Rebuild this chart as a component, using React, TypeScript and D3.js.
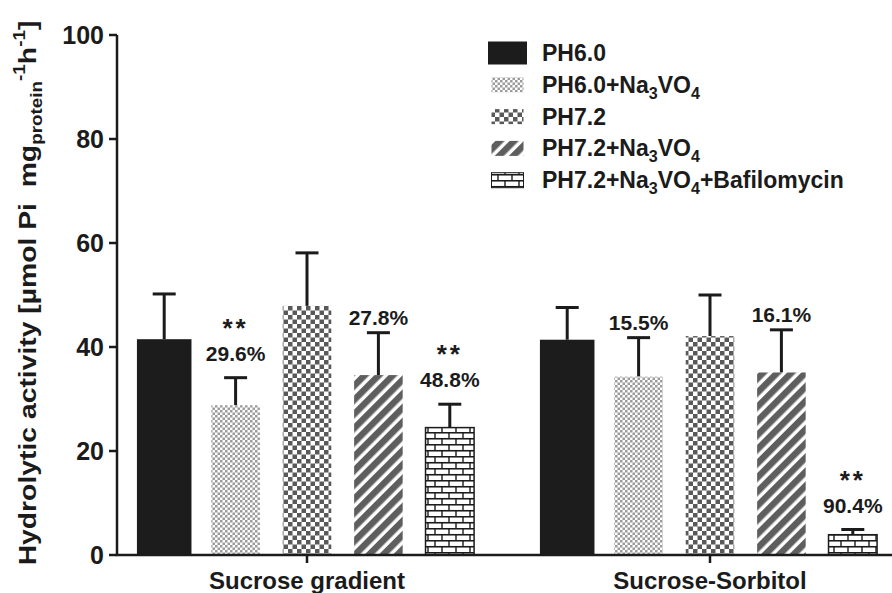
import React from "react";
import * as d3 from "d3";

const categories = ["Sucrose gradient", "Sucrose-Sorbitol"];
const seriesNames = ["PH6.0", "PH6.0+Na_3VO_4", "PH7.2", "PH7.2+Na_3VO_4", "PH7.2+Na_3VO_4+Bafilomycin"];
const meanGradient = [41.5, 28.8, 47.9, 34.6, 24.5];
const sdGradient = [8.7, 5.3, 10.2, 8.15, 4.5];
const meanSorbitol = [41.4, 34.3, 42.1, 35.1, 3.9];
const sdSorbitol = [6.2, 7.5, 7.9, 8.2, 1.0];
const pctGradient = ["", "29.6%", "", "27.8%", "48.8%"];
const pctSorbitol = ["", "15.5%", "", "16.1%", "90.4%"];
const starGradient = [false, true, false, false, true];
const starSorbitol = [false, false, false, false, true];
const yTicks = [0, 20, 40, 60, 80, 100];

const means = [meanGradient, meanSorbitol];
const sds = [sdGradient, sdSorbitol];
const pcts = [pctGradient, pctSorbitol];
const stars = [starGradient, starSorbitol];

const W = 892;
const H = 593;
const FONT = "'Liberation Sans', Arial, Helvetica, sans-serif";
const INK = "#1b1b1b";
const fills = ["#1c1c1c", "url(#pFine)", "url(#pCoarse)", "url(#pStripe)", "url(#pBrick)"];

function SubLabel({ label, x, y, size }: { label: string; x: number; y: number; size: number }) {
  const parts = label.split(/(_\d)/).filter((s) => s.length > 0);
  let shifted = false;
  const out: React.ReactNode[] = [];
  parts.forEach((p, i) => {
    if (p.startsWith("_")) {
      out.push(
        <tspan key={i} dy={6} fontSize={size * 0.7}>
          {p.slice(1)}
        </tspan>
      );
      shifted = true;
    } else {
      out.push(
        <tspan key={i} dy={shifted ? -6 : 0}>
          {p}
        </tspan>
      );
      shifted = false;
    }
  });
  return (
    <text x={x} y={y} fontSize={size} fontWeight="bold" fill={INK} fontFamily={FONT}>
      {out}
    </text>
  );
}

export default function App() {
  const y = d3.scaleLinear().domain([0, 100]).range([555, 35]);
  const x0 = d3.scalePoint<string>().domain(categories).range([307, 710]);
  const x1 = d3
    .scaleBand<string>()
    .domain(seriesNames)
    .range([-178.5, 178.5])
    .paddingInner(0.32)
    .paddingOuter(0.16);
  const bw = x1.bandwidth();
  const axisX = 117;

  return (
    <svg width={W} height={H} style={{ display: "block", position: "absolute", left: 0, top: 0, background: "#fff" }}>
      <defs>
        <pattern id="pFine" patternUnits="userSpaceOnUse" width={5} height={5}>
          <rect width={5} height={5} fill="#fff" />
          <rect width={2.5} height={2.5} fill="#9b9b9b" />
          <rect x={2.5} y={2.5} width={2.5} height={2.5} fill="#9b9b9b" />
        </pattern>
        <pattern id="pCoarse" patternUnits="userSpaceOnUse" width={9} height={9}>
          <rect width={9} height={9} fill="#fff" />
          <rect width={4.5} height={4.5} fill="#595959" />
          <rect x={4.5} y={4.5} width={4.5} height={4.5} fill="#595959" />
        </pattern>
        <pattern id="pStripe" patternUnits="userSpaceOnUse" width={10} height={10} patternTransform="rotate(45)">
          <rect width={10} height={10} fill="#fff" />
          <rect width={6.5} height={10} fill="#5e5e5e" />
        </pattern>
        <pattern id="pBrick" patternUnits="userSpaceOnUse" width={14} height={12}>
          <rect width={14} height={12} fill="#fff" />
          <line x1={0} x2={14} y1={0.75} y2={0.75} stroke="#1b1b1b" strokeWidth={1.6} />
          <line x1={0} x2={14} y1={6.75} y2={6.75} stroke="#1b1b1b" strokeWidth={1.6} />
          <line x1={1} x2={1} y1={0} y2={6.75} stroke="#1b1b1b" strokeWidth={1.4} />
          <line x1={8} x2={8} y1={6.75} y2={12} stroke="#1b1b1b" strokeWidth={1.4} />
        </pattern>
      </defs>

      {/* y-axis title */}
      <g transform="translate(36,293) rotate(-90) scale(1.18,1)">
        <text textAnchor="middle" fontSize={24} fontWeight="bold" fill={INK} fontFamily={FONT}>
          <tspan>{"Hydrolytic activity [µmol Pi\u00a0\u00a0mg"}</tspan>
          <tspan dy={6} fontSize={16}>protein</tspan>
          <tspan dy={-17} fontSize={16}>-1</tspan>
          <tspan dy={11}>h</tspan>
          <tspan dy={-11} fontSize={16}>-1</tspan>
          <tspan dy={11}>]</tspan>
        </text>
      </g>

      {/* y axis */}
      <line x1={axisX} x2={axisX} y1={y(100)} y2={y(0)} stroke={INK} strokeWidth={2.5} />
      {yTicks.map((t) => (
        <g key={t}>
          <line x1={axisX - 8} x2={axisX} y1={y(t)} y2={y(t)} stroke={INK} strokeWidth={2.5} />
          <text
            x={axisX - 13}
            y={y(t) + 9}
            textAnchor="end"
            fontSize={25}
            fontWeight="bold"
            fill={INK}
            fontFamily={FONT}
          >
            {t}
          </text>
        </g>
      ))}

      {/* bars */}
      {categories.map((cat, gi) => (
        <g key={cat}>
          {seriesNames.map((s, si) => {
            const cx = (x0(cat) as number) + (x1(s) as number) + bw / 2;
            const m = means[gi][si];
            const top = y(m);
            const capY = y(m + sds[gi][si]);
            const isBlack = si === 0;
            const bx = isBlack ? cx - bw / 2 - 3 : cx - bw / 2;
            const bwid = isBlack ? bw + 6 : bw;
            return (
              <g key={s}>
                <line x1={cx} x2={cx} y1={top} y2={capY} stroke={INK} strokeWidth={3} />
                <line x1={cx - 11.5} x2={cx + 11.5} y1={capY} y2={capY} stroke={INK} strokeWidth={3} />
                <rect
                  x={bx}
                  y={top}
                  width={bwid}
                  height={y(0) - top}
                  fill={fills[si]}
                  stroke={si === 4 ? INK : "none"}
                  strokeWidth={si === 4 ? 1.5 : 0}
                />
                {pcts[gi][si] && (
                  <text
                    x={cx}
                    y={stars[gi][si] ? capY - 17 : capY - 7.5}
                    textAnchor="middle"
                    fontSize={21}
                    fontWeight="bold"
                    fill={INK}
                    fontFamily={FONT}
                  >
                    {pcts[gi][si]}
                  </text>
                )}
                {stars[gi][si] && (
                  <text
                    x={cx}
                    y={capY - 17 - 24}
                    textAnchor="middle"
                    fontSize={26}
                    fontWeight="bold"
                    letterSpacing={3}
                    fill={INK}
                    fontFamily={FONT}
                  >
                    **
                  </text>
                )}
              </g>
            );
          })}
        </g>
      ))}

      {/* x axis */}
      <line x1={axisX - 1.25} x2={W} y1={y(0)} y2={y(0)} stroke={INK} strokeWidth={2.5} />
      {categories.map((cat) => (
        <g key={cat}>
          <line x1={x0(cat)} x2={x0(cat)} y1={y(0)} y2={y(0) + 8} stroke={INK} strokeWidth={2.5} />
          <text
            x={x0(cat)}
            y={589}
            textAnchor="middle"
            fontSize={24}
            fontWeight="bold"
            fill={INK}
            fontFamily={FONT}
          >
            {cat}
          </text>
        </g>
      ))}

      {/* legend */}
      {seriesNames.map((s, i) => {
        const cy = 53 + i * 31.8;
        const big = i === 0;
        return (
          <g key={s}>
            <rect
              x={big ? 488 : 491.5}
              y={big ? cy - 11.5 : cy - 7.5}
              width={big ? 39 : 32}
              height={big ? 23 : 15}
              fill={fills[i]}
              stroke={i === 4 ? INK : "none"}
              strokeWidth={1}
            />
            <SubLabel label={s} x={542} y={cy + 8} size={23} />
          </g>
        );
      })}
    </svg>
  );
}
